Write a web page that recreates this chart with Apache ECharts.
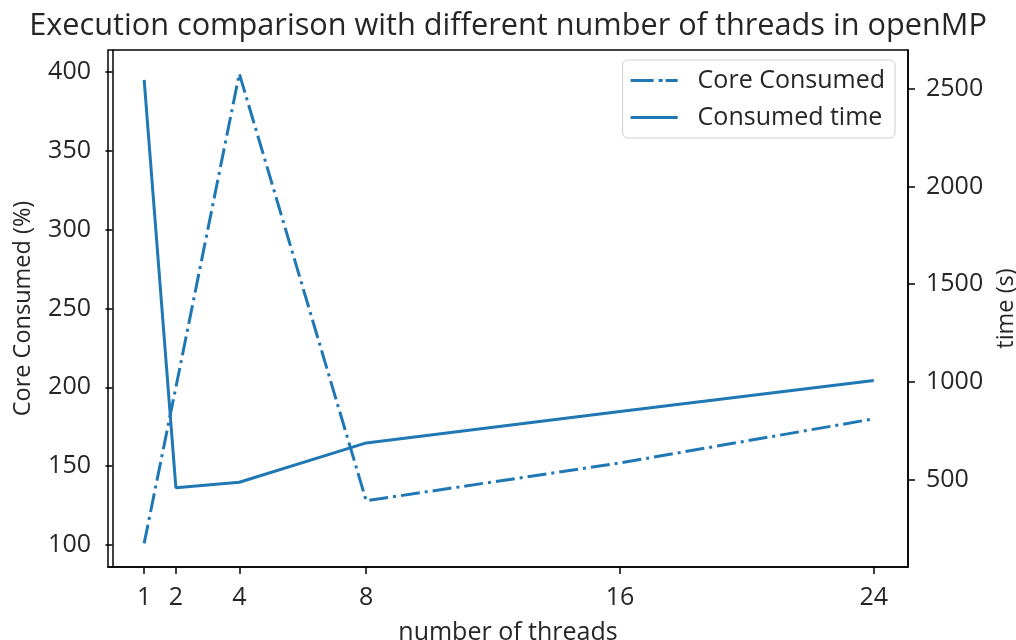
<!DOCTYPE html>
<html>
<head>
<meta charset="utf-8">
<script src="https://cdn.jsdelivr.net/npm/echarts@6/dist/echarts.min.js"></script>
<style>html,body{margin:0;padding:0;background:#fff}#c{width:1016px;height:640px}</style>
</head>
<body>
<div id="c"></div>
<script>
var threads = [1, 2, 4, 8, 16, 24];
var coreConsumed = [101, 200, 399, 128, 152, 180];
var consumedTime = [2544, 460, 488, 689, 850, 1008];
var xTicks = [1, 2, 4, 8, 16, 24];
var leftTicks = [100, 150, 200, 250, 300, 350, 400];
var rightTicks = [500, 1000, 1500, 2000, 2500];

var FONT = 'Open Sans';
var TXT = '#262626';
var BLUE = '#1f77b4';

function pairs(xs, ys) { return xs.map(function (x, i) { return [x, ys[i]]; }); }
function plain(v) { return String(v); }

var chart = echarts.init(document.getElementById('c'), null, {renderer: 'canvas'});
chart.setOption({
  animation: false,
  backgroundColor: '#fff',
  textStyle: {fontFamily: FONT, color: TXT},
  title: {
    text: 'Execution comparison with different number of threads in openMP',
    left: 'center', top: 6,
    textStyle: {fontFamily: FONT, fontSize: 30.7, fontWeight: 'normal', color: TXT}
  },
  grid: {left: 108, right: 108, top: 50, bottom: 73, outerBoundsMode: 'none', containLabel: false,
         show: true, borderColor: '#000', borderWidth: 1.5, backgroundColor: 'transparent'},
  legend: {
    orient: 'vertical', right: 121, top: 60,
    padding: [8, 10, 8, 8], itemGap: 12,
    itemWidth: 47, itemHeight: 3,
    borderColor: '#d0d0d0', borderWidth: 1, borderRadius: 5, backgroundColor: 'rgba(255,255,255,0.8)',
    textStyle: {fontFamily: FONT, fontSize: 25, color: TXT, padding: [0, 0, 0, 15]},
    data: [
      {name: 'Core Consumed', icon: 'path://M0 0H23V3H0Z M28 0H32V3H28Z M35 0H47V3H35Z'},
      {name: 'Consumed time', icon: 'rect'}
    ]
  },
  xAxis: {
    type: 'value', min: -0.14, max: 25.08,
    name: 'number of threads', nameLocation: 'middle', nameGap: 53,
    nameTextStyle: {fontFamily: FONT, fontSize: 25, color: TXT},
    axisLine: {show: true, lineStyle: {color: '#000', width: 1.5}},
    axisTick: {show: true, inside: false, length: 7, lineStyle: {color: '#000', width: 1.5}, customValues: xTicks},
    axisLabel: {fontFamily: FONT, fontSize: 25, color: TXT, margin: 18, customValues: xTicks, formatter: plain},
    splitLine: {show: false}
  },
  yAxis: [{
    type: 'value', min: 86, max: 414, position: 'left',
    name: 'Core Consumed (%)', nameLocation: 'middle', nameGap: 73,
    nameTextStyle: {fontFamily: FONT, fontSize: 23.5, color: TXT},
    axisLine: {show: true, lineStyle: {color: '#000', width: 1.5}},
    axisTick: {show: true, inside: false, length: 7, lineStyle: {color: '#000', width: 1.5}, customValues: leftTicks},
    axisLabel: {fontFamily: FONT, fontSize: 25, color: TXT, margin: 17, customValues: leftTicks, formatter: plain},
    splitLine: {show: false}
  }, {
    type: 'value', min: 55, max: 2697, position: 'right',
    name: 'time (s)', nameLocation: 'middle', nameGap: 79,
    nameTextStyle: {fontFamily: FONT, fontSize: 23.5, color: TXT},
    axisLine: {show: true, lineStyle: {color: '#000', width: 1.5}},
    axisTick: {show: true, inside: false, length: 7, lineStyle: {color: '#000', width: 1.5}, customValues: rightTicks},
    axisLabel: {fontFamily: FONT, fontSize: 25, color: TXT, margin: 18, customValues: rightTicks, formatter: plain},
    splitLine: {show: false}
  }],
  series: [{
    name: 'Core Consumed', type: 'line', yAxisIndex: 0,
    data: pairs(threads, coreConsumed),
    symbol: 'none', showSymbol: false, color: BLUE,
    lineStyle: {color: BLUE, width: 3, type: [19, 5, 3, 5]}
  }, {
    name: 'Consumed time', type: 'line', yAxisIndex: 1,
    data: pairs(threads, consumedTime),
    symbol: 'none', showSymbol: false, color: BLUE,
    lineStyle: {color: BLUE, width: 3, type: 'solid'}
  }]
});
</script>
</body>
</html>
